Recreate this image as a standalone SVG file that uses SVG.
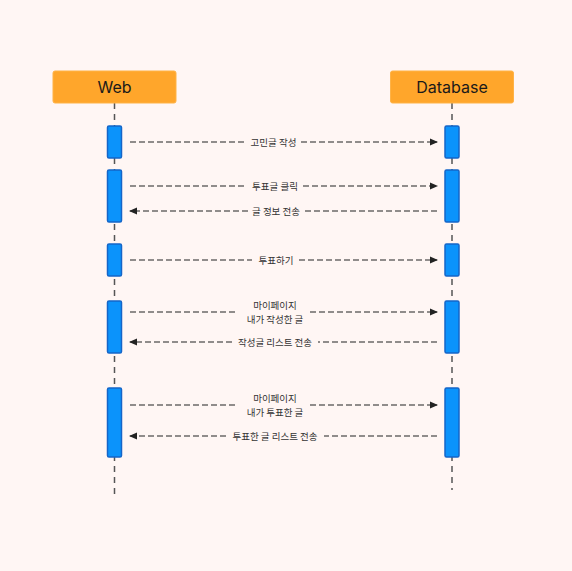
<svg xmlns="http://www.w3.org/2000/svg" width="572" height="571" viewBox="0 0 572 571">
<defs>
<marker id="ah" markerWidth="8" markerHeight="8" refX="7" refY="4" orient="auto" markerUnits="userSpaceOnUse">
<path d="M0,0.5 L8,4 L0,7.5 Z" fill="#222"/>
</marker>
<style>
.actor{fill:#ffa62b;stroke:#ffb347;stroke-width:1}
.atext{font-family:Inter,"Noto Sans CJK KR",sans-serif;font-size:16px;fill:#1a1a1a;text-anchor:middle}
.life{stroke:#555;stroke-width:1.5;stroke-dasharray:6,5;fill:none}
.act{fill:#0b93fb;stroke:#1565c8;stroke-width:1.5}
.msg{stroke:#222;stroke-width:1.2;stroke-dasharray:6,3;fill:none}
.lbl{font-family:"Noto Sans CJK KR",sans-serif;font-size:9.5px;fill:#333;text-anchor:middle}
.bg{fill:#fff6f4}
</style>
</defs>
<rect class="bg" x="0" y="0" width="572" height="571"/>
<g id="lifelines">
<line class="life" x1="114.5" y1="103" x2="114.5" y2="495"/>
<line class="life" x1="452" y1="103" x2="452" y2="490"/>
</g>
<g id="web">
<rect class="actor" x="53" y="71" width="123" height="32" rx="2"/>
<text class="atext" x="114.5" y="93">Web</text>
</g>
<g id="database">
<rect class="actor" x="390.5" y="71" width="123" height="32" rx="2"/>
<text class="atext" x="452" y="93">Database</text>
</g>
<g id="activations">
<rect class="act" x="107.5" y="126" width="14" height="32" rx="1.5"/>
<rect class="act" x="107.5" y="170" width="14" height="52" rx="1.5"/>
<rect class="act" x="107.5" y="244" width="14" height="32" rx="1.5"/>
<rect class="act" x="107.5" y="301" width="14" height="52" rx="1.5"/>
<rect class="act" x="107.5" y="388" width="14" height="69" rx="1.5"/>
<rect class="act" x="445" y="126" width="14" height="32" rx="1.5"/>
<rect class="act" x="445" y="170" width="14" height="52" rx="1.5"/>
<rect class="act" x="445" y="244" width="14" height="32" rx="1.5"/>
<rect class="act" x="445" y="301" width="14" height="52" rx="1.5"/>
<rect class="act" x="445" y="388" width="14" height="69" rx="1.5"/>
</g>
<g id="connectors">
<line class="msg" x1="130" y1="142" x2="246" y2="142"/>
<line class="msg" x1="301" y1="142" x2="437" y2="142" marker-end="url(#ah)"/>
<line class="msg" x1="130" y1="186" x2="247" y2="186"/>
<line class="msg" x1="303" y1="186" x2="437" y2="186" marker-end="url(#ah)"/>
<line class="msg" x1="437" y1="211" x2="305" y2="211"/>
<line class="msg" x1="248" y1="211" x2="130" y2="211" marker-end="url(#ah)"/>
<line class="msg" x1="130" y1="260" x2="252" y2="260"/>
<line class="msg" x1="299" y1="260" x2="437" y2="260" marker-end="url(#ah)"/>
<line class="msg" x1="130" y1="312" x2="238" y2="312"/>
<line class="msg" x1="310" y1="312" x2="437" y2="312" marker-end="url(#ah)"/>
<line class="msg" x1="437" y1="342" x2="318" y2="342"/>
<line class="msg" x1="232" y1="342" x2="130" y2="342" marker-end="url(#ah)"/>
<line class="msg" x1="130" y1="405" x2="238" y2="405"/>
<line class="msg" x1="310" y1="405" x2="437" y2="405" marker-end="url(#ah)"/>
<line class="msg" x1="437" y1="436" x2="324" y2="436"/>
<line class="msg" x1="226" y1="436" x2="130" y2="436" marker-end="url(#ah)"/>
</g>
<g id="labels">
<text class="lbl" x="273.5" y="145.5">고민글 작성</text>
<text class="lbl" x="275" y="189.5">투표글 클릭</text>
<text class="lbl" x="276" y="214.5">글 정보 전송</text>
<text class="lbl" x="276" y="263.5">투표하기</text>
<text class="lbl" x="275" y="308.5">마이페이지</text>
<text class="lbl" x="275" y="322.5">내가 작성한 글</text>
<text class="lbl" x="275" y="345.5">작성글 리스트 전송</text>
<text class="lbl" x="275" y="401.5">마이페이지</text>
<text class="lbl" x="275" y="415.5">내가 투표한 글</text>
<text class="lbl" x="275" y="439.5">투표한 글 리스트 전송</text>
</g>
</svg>
